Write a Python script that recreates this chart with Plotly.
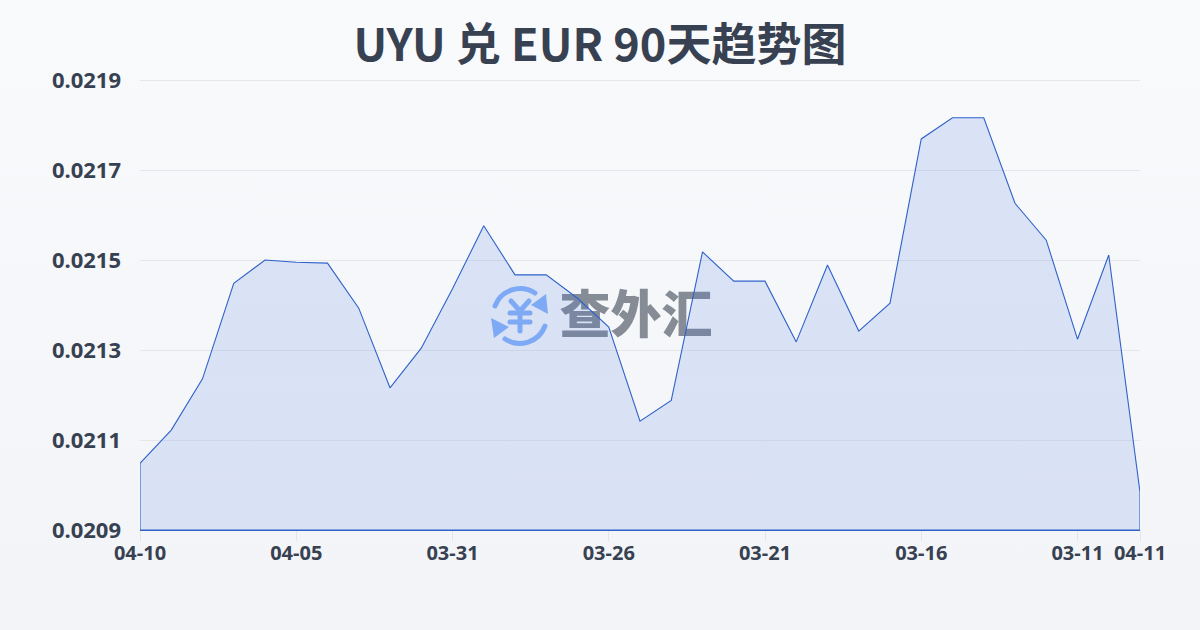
import base64
import plotly.graph_objects as go

dates = ["04-10","04-09","04-08","04-07","04-06","04-05","04-04","04-03","04-02","04-01",
         "03-31","03-30","03-29","03-28","03-27","03-26","03-25","03-24","03-23","03-22",
         "03-21","03-20","03-19","03-18","03-17","03-16","03-15","03-14","03-13","03-12",
         "03-11","03-10","04-11"]
rates = [0.021048,0.021122,0.021236,0.021448,0.021500,0.021495,0.021493,0.021393,0.021216,0.021304,
         0.021436,0.021576,0.021467,0.021467,0.021415,0.021351,0.021142,0.021188,0.021518,0.021453,
         0.021453,0.021318,0.021489,0.021342,0.021404,0.021769,0.021816,0.021816,0.021626,0.021544,
         0.021324,0.021511,0.020984]
tick_labels = ["04-10","04-05","03-31","03-26","03-21","03-16","03-11","04-11"]
y_ticks = [0.0209,0.0211,0.0213,0.0215,0.0217,0.0219]
title = "UYU 兑 EUR 90天趋势图"
watermark = "查外汇"
base = y_ticks[0]

INK = "#374151"
FONT = "Noto Sans CJK SC, Noto Sans, sans-serif"
W, H = 1200, 630
L, R, T, B = 140, 1140, 80, 530

def uri(svg):
    return "data:image/svg+xml;base64," + base64.b64encode(svg.encode()).decode()

bg_svg = ('<svg xmlns="http://www.w3.org/2000/svg" width="1200" height="630" preserveAspectRatio="none">'
          '<defs><linearGradient id="g" x1="0" y1="0" x2="0" y2="1">'
          '<stop offset="0" stop-color="#f9fafc"/><stop offset="1" stop-color="#f2f4f7"/></linearGradient></defs>'
          '<rect width="1200" height="630" fill="url(#g)"/></svg>')

logo_svg = ('<svg xmlns="http://www.w3.org/2000/svg" width="64" height="64" viewBox="0 0 64 64">'
            '<g fill="none" stroke="#8ab4f8" stroke-linecap="round">'
            '<path d="M7 22 A27 27 0 0 1 47 9" stroke-width="5"/>'
            '<path d="M57 42 A27 27 0 0 1 17 55" stroke-width="5"/>'
            '<path d="M23 17 L32 27 L41 17 M32 27 V47" stroke-width="5"/>'
            '<path d="M22 29 H42 M22 38 H42" stroke-width="5"/></g>'
            '<path d="M58 10 L60 30 L43 21 Z" fill="#8ab4f8"/>'
            '<path d="M6 54 L3 34 L21 43 Z" fill="#8ab4f8"/></svg>')

def px(x): return (x - L) / (R - L)
def py(y): return (B - y) / (B - T)

fig = go.Figure()
fig.add_trace(go.Scatter(
    x=dates + [dates[-1], dates[0], dates[0]],
    y=rates + [base, base, rates[0]],
    mode="lines",
    line=dict(color="#2f62c9", width=1.1),
    fill="toself",
    cliponaxis=False,
    fillgradient=dict(type="vertical",
                      colorscale=[[0, "rgba(59,108,222,0.14)"], [1, "rgba(59,108,222,0.16)"]]),
    hoverinfo="skip", showlegend=False,
))

fig.update_layout(
    width=W, height=H, autosize=False,
    margin=dict(l=L, r=W - R, t=T, b=H - B),
    paper_bgcolor="#f5f7fa", plot_bgcolor="rgba(0,0,0,0)",
    title=dict(text=title, x=0.5, xanchor="center", y=1 - 45 / H, yanchor="middle",
               font=dict(family=FONT, size=45, color=INK, weight="bold")),
    font=dict(family=FONT, color=INK),
    xaxis=dict(type="category", categoryorder="array", categoryarray=dates,
               range=[0, len(dates) - 1], tickmode="array",
               tickvals=tick_labels, ticktext=tick_labels,
               ticks="outside", ticklen=10, tickcolor="#e2e5ea", tickwidth=1,
               ticklabelstandoff=-5,
               showgrid=False, zeroline=False, showline=True, linecolor="#2f62c9", linewidth=1,
               tickangle=0, tickfont=dict(family="Noto Sans", size=20, color=INK, weight="bold")),
    yaxis=dict(range=[y_ticks[0], y_ticks[-1]], tickmode="array", tickvals=y_ticks,
               ticktext=[f"{v:.4f}" for v in y_ticks],
               ticks="", showgrid=True, gridcolor="#e5e7eb", gridwidth=1,
               zeroline=False, showline=False, ticklabelstandoff=18,
               tickfont=dict(family="Noto Sans", size=22, color=INK, weight="bold")),
    images=[
        dict(source=uri(bg_svg), xref="paper", yref="paper", x=px(0), y=py(0),
             sizex=W / (R - L), sizey=H / (B - T), xanchor="left", yanchor="top",
             sizing="stretch", layer="below"),
        dict(source=uri(logo_svg), xref="paper", yref="paper", x=px(488), y=py(284),
             sizex=64 / (R - L), sizey=64 / (B - T), xanchor="left", yanchor="top",
             sizing="stretch", layer="below"),
    ],
    shapes=[dict(type="line", xref="paper", yref="paper", x0=0, x1=1, y0=py(80.5), y1=py(80.5),
                 line=dict(color="#e5e7eb", width=1), layer="below"),
            dict(type="rect", xref="paper", yref="paper",
                 x0=px(556), x1=px(716), y0=py(344), y1=py(294),
                 line=dict(width=0), fillcolor="rgba(0,0,0,0)", layer="below",
                 label=dict(text=watermark, textposition="middle center",
                            font=dict(family=FONT, size=51, color="#868c96", weight=900)))],
)
fig.write_html("out.html", config={"displayModeBar": False},
               post_script="document.body.style.margin='0';document.documentElement.style.margin='0';document.body.style.overflow='hidden';")
